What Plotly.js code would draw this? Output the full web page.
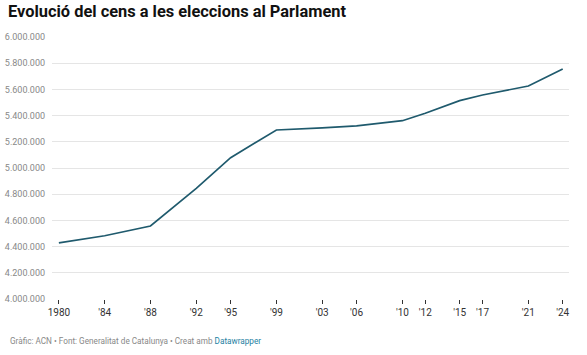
<!DOCTYPE html>
<html>
<head>
<meta charset="utf-8">
<script src="https://cdn.plot.ly/plotly-3.0.1.min.js"></script>
<style>
html,body{margin:0;padding:0;background:#fff;}
#chart{width:587px;height:355px;}
</style>
</head>
<body>
<div id="chart"></div>
<script>
const years = [1980, 1984, 1988, 1992, 1995, 1999, 2003, 2006, 2010, 2012, 2015, 2017, 2021, 2024];
const census = [4428000, 4483000, 4557000, 4845000, 5079000, 5290000, 5306000, 5321000, 5361000, 5418000, 5514000, 5557000, 5626000, 5756000];
const xTickLabels = ["1980", "'84", "'88", "'92", "'95", "'99", "'03", "'06", "'10", "'12", "'15", "'17", "'21", "'24"];
const yTicks = [4000000, 4200000, 4400000, 4600000, 4800000, 5000000, 5200000, 5400000, 5600000, 5800000, 6000000];

const trace = {
  x: years, y: census, type: 'scatter', mode: 'lines',
  line: {color: '#1f5a6d', width: 1.7},
  hoverinfo: 'x+y'
};

const layout = {
  width: 587, height: 355,
  margin: {l: 52, r: 18, t: 37, b: 56},
  paper_bgcolor: '#fff', plot_bgcolor: '#fff',
  separators: ',.',
  font: {family: 'Roboto, sans-serif', size: 10, color: '#888'},
  showlegend: false,
  title: {
    text: '<b>Evolució del cens a les eleccions al Parlament</b>',
    x: 0, xref: 'container', xanchor: 'left',
    y: 1, yref: 'container', yanchor: 'top',
    pad: {l: 8, t: 6},
    font: {family: 'Roboto, sans-serif', size: 16.4, color: '#111'}
  },
  xaxis: {
    range: [1979.4, 2024.55],
    tickmode: 'array', tickvals: years, ticktext: xTickLabels,
    ticks: 'outside', ticklen: 4, tickwidth: 1, tickcolor: '#333',
    showgrid: false, zeroline: false, showline: false,
    tickfont: {family: 'Roboto, sans-serif', size: 10, color: '#333'},
    fixedrange: true
  },
  yaxis: {
    range: [4000000, 6000000],
    tickmode: 'array', tickvals: yTicks,
    tickformat: ',d',
    showgrid: true, gridcolor: '#e5e5e5', gridwidth: 1,
    zeroline: false, showline: false, ticks: '',
    ticklabelstandoff: 6,
    tickfont: {family: 'Roboto, sans-serif', size: 9, color: '#888'},
    fixedrange: true
  },
  annotations: [{
    text: 'Gràfic: ACN • Font: Generalitat de Catalunya • Creat amb <span style="color:#1d81a2">Datawrapper</span>',
    xref: 'paper', yref: 'paper', x: 0, y: 0,
    xshift: -44, yshift: -35, xanchor: 'left', yanchor: 'top',
    showarrow: false,
    font: {family: 'Roboto, sans-serif', size: 8.2, color: '#888'}
  }]
};

Plotly.newPlot('chart', [trace], layout, {displayModeBar: false, staticPlot: true});
</script>
</body>
</html>
